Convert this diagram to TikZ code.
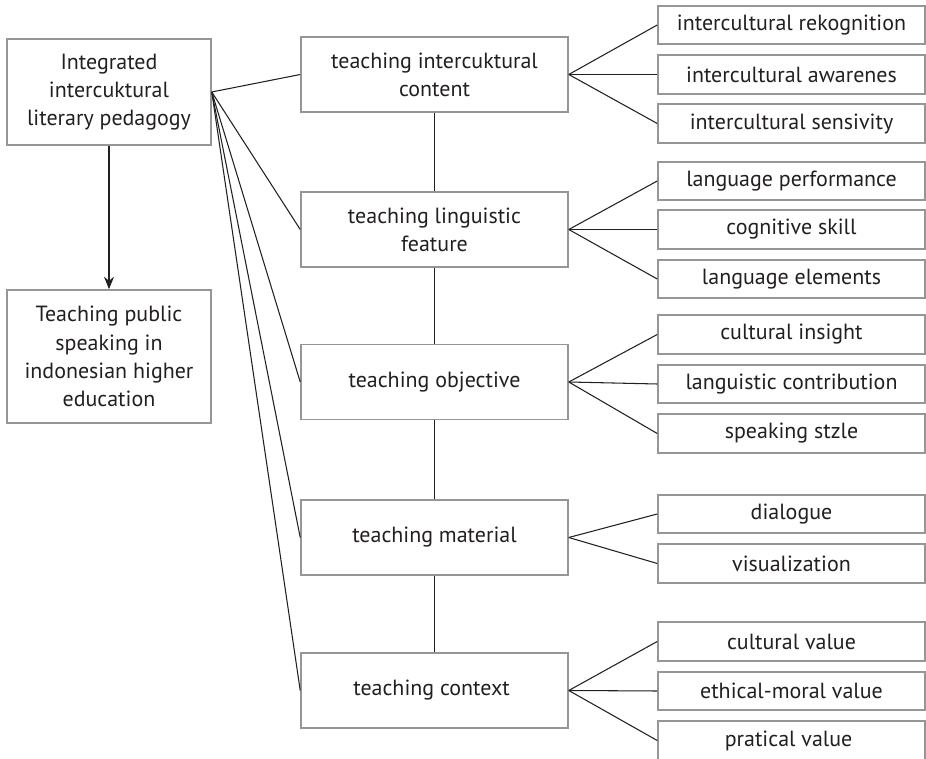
\documentclass[tikz,border=0pt]{standalone}
\usepackage{fontspec}
\setmainfont{PT Sans}
\usetikzlibrary{arrows.meta}
\definecolor{framegray}{RGB}{150,150,150}
\definecolor{inkgray}{RGB}{35,31,32}
\newcommand{\leftx}{109}
\newcommand{\midx}{434.5}
\newcommand{\subx}{791.5}
% topic boxes: name/y/text
\def\topics{
  cont/74.5/{teaching intercuktural\\content},
  ling/229.5/{teaching linguistic\\feature},
  obj/382/{teaching objective},
  mat/537.5/{teaching material},
  ctx/690.5/{teaching context}
}
% sub boxes: parent/name/y/text
\def\subtopics{
  cont/rek/25/{intercultural rekognition},
  cont/awa/74.5/{intercultural awarenes},
  cont/sens/123.5/{intercultural sensivity},
  ling/perf/181/{language performance},
  ling/cog/229.5/{cognitive skill},
  ling/elem/279/{language elements},
  obj/ins/334.5/{cultural insight},
  obj/contr/384/{languistic contribution},
  obj/styl/433.5/{speaking stzle},
  mat/dia/514/{dialogue},
  mat/vis/563.5/{visualization},
  ctx/cval/641.5/{cultural value},
  ctx/eval/691/{ethical-moral value},
  ctx/pval/740.5/{pratical value}
}
\tikzset{
  framebox/.style = {draw=framegray, line width=0.9pt, text=inkgray, align=center,
                     inner sep=0pt, font=\fontsize{12.5}{16}\selectfont},
  leftbox/.style  = {framebox, minimum width=4.08cm},
  topicbox/.style = {framebox, minimum width=5.34cm, minimum height=1.5cm},
  subbox/.style   = {framebox, minimum width=5.34cm, minimum height=0.77cm},
  link/.style     = {draw=inkgray, line width=0.6pt},
  flow/.style     = {link, -{Stealth[length=2.5mm,width=2mm]}}
}
\begin{document}
\begin{tikzpicture}[x=0.02cm, y=-0.02cm]
  \useasboundingbox (0,0) rectangle (926,759);

  % left column
  \node[leftbox, minimum height=2.12cm] (integ) at (\leftx,92)
    {Integrated\\intercuktural\\literary pedagogy};
  \node[leftbox, minimum height=2.66cm] (speak) at (\leftx,356.5)
    {Teaching public\\speaking in\\indonesian higher\\education};
  \draw[flow] (integ) -- (speak);

  % middle column
  \foreach \n/\y/\t in \topics {
    \node[topicbox] (\n) at (\midx,\y) {\t};
    \draw[link] (integ.east) -- (\n.west);
  }
  \draw[link] (cont) -- (ling);
  \draw[link] (ling) -- (obj);
  \draw[link] (obj) -- (mat);
  \draw[link] (mat) -- (ctx);

  % right column
  \foreach \p/\n/\y/\t in \subtopics {
    \node[subbox] (\n) at (\subx,\y) {\t};
    \draw[link] (\p.east) -- (\n.west);
  }
\end{tikzpicture}
\end{document}
